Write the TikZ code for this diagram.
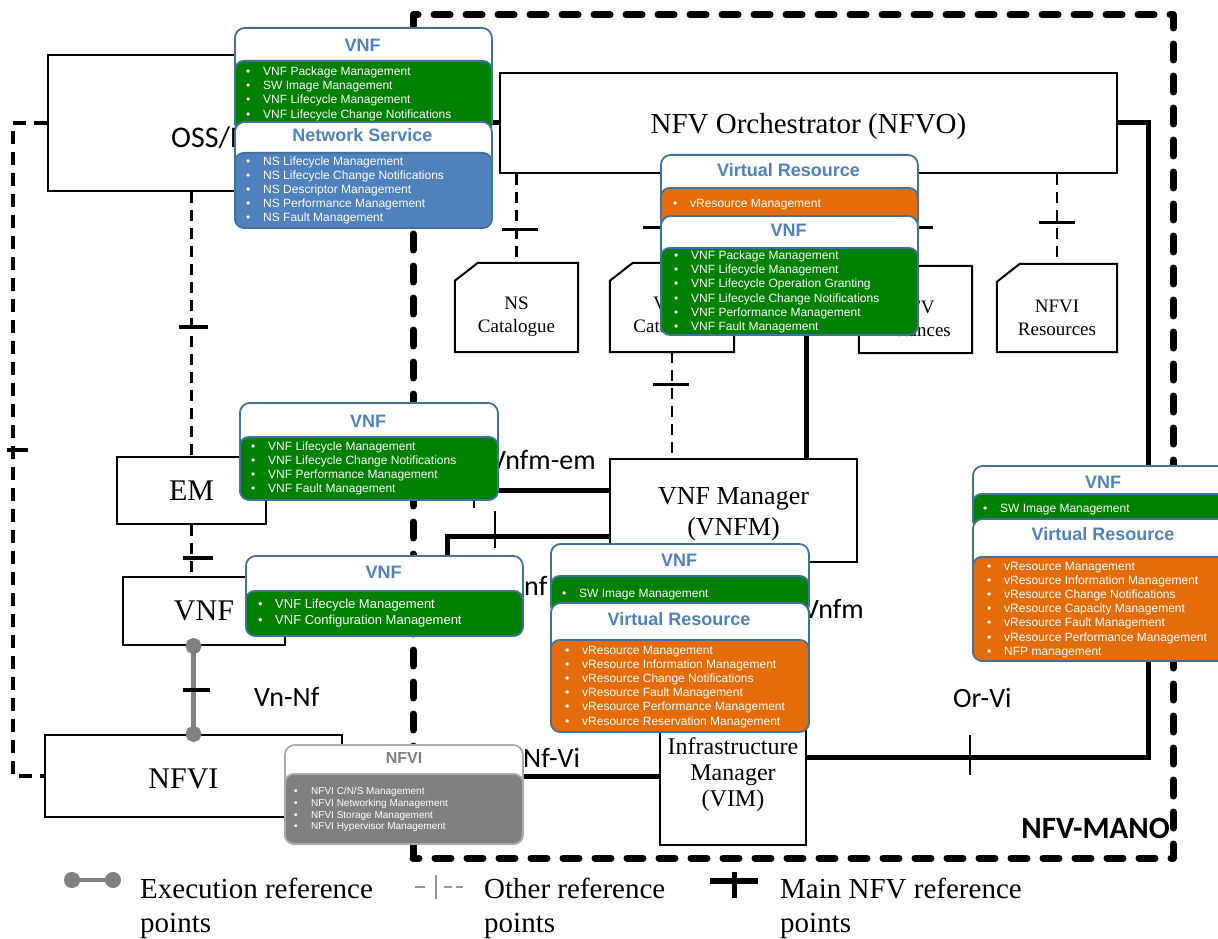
\documentclass[tikz,border=0pt]{standalone}
\usepackage{fontspec}
\setmainfont{Liberation Serif}
\setsansfont{Carlito}
\newfontfamily\arialfont{Liberation Sans}
\usetikzlibrary{arrows.meta}
\definecolor{cborder}{RGB}{65,113,156}
\definecolor{ctblue}{RGB}{79,129,189}
\definecolor{vnfgreen}{RGB}{0,128,0}
\definecolor{vrorange}{RGB}{228,108,10}
\definecolor{nsblue}{RGB}{79,129,189}
\definecolor{nfvigray}{RGB}{128,128,128}
\definecolor{nfviedge}{RGB}{170,170,170}
\definecolor{execgray}{RGB}{128,128,128}
\definecolor{lggray}{RGB}{150,150,150}
\newcommand{\itm}[1]{\makebox[17pt][l]{\textbullet}#1}
\tikzset{
	box/.style={draw, line width=2pt, fill=white, inner sep=0pt, align=center, font=\fontsize{30}{32}\selectfont},
	cat/.style={inner sep=0pt},
	catline/.style={draw, line width=2pt, fill=white},
	cattext/.style={inner sep=0pt, align=center, font=\fontsize{19}{23}\selectfont},
	other/.style={line width=2.5pt, dash pattern=on 11pt off 7pt},
	otherlong/.style={line width=3.5pt, dash pattern=on 13pt off 8pt},
	otherlg/.style={draw=lggray, line width=2pt, dash pattern=on 10pt off 19pt on 8pt off 4pt on 8pt},
	main/.style={line width=5pt},
	exec/.style={draw=execgray, line width=5pt, {Circle[length=16pt]}-{Circle[length=16pt]}, shorten <=-8pt, shorten >=-8pt},
	htick/.style={fill, inner sep=0pt, minimum width=#1, minimum height=3.5pt},
	htick/.default=30pt,
	vtick/.style={fill, inner sep=0pt, minimum height=#1, minimum width=2.5pt},
	vtick/.default=38pt,
	rp/.style={inner sep=0pt, font=\sffamily\fontsize{28}{30}\selectfont},
	mano/.style={line width=7pt, dash pattern=on 16pt off 16pt, line cap=round, line join=round},
	apibox/.style={anchor=north west, draw=cborder, line width=1.8pt, fill=white, rounded corners=10pt, inner sep=0pt},
	cbody/.style={anchor=north west, draw=cborder, line width=1.8pt, fill=#1, rounded corners=9pt, inner sep=0pt},
	ctitle/.style={inner sep=0pt, text=ctblue, font=\arialfont\bfseries\fontsize{18}{20}\selectfont},
	citems/.style={anchor=north west, inner sep=0pt, align=left, text=white, font=\arialfont\fontsize{12}{14.2}\selectfont},
	lgtext/.style={anchor=north west, inner sep=0pt, align=left, font=\fontsize{29}{34}\selectfont}
}

\begin{document}
\begin{tikzpicture}[x=1pt,y=-1pt]
	\useasboundingbox (0,0) rectangle (1218,939);
	\clip (0,0) rectangle (1218,939);

	% functional blocks
	\node[box, minimum width=438pt, minimum height=136pt] (oss) at (267,123) {};
	\node[rp, anchor=base west, font=\sffamily\fontsize{30}{32}\selectfont] (osstext) at (171,147) {OSS/BSS};
	\node[box, minimum width=617pt, minimum height=100pt, text depth=0pt, font=\fontsize{29}{31}\selectfont] (nfvo) at (808.5,123) {NFV Orchestrator (NFVO)};
	\node[box, minimum width=149pt, minimum height=67pt] (em) at (191.5,490.5) {EM};
	\node[box, minimum width=162pt, minimum height=68pt] (vnf) at (204,611) {VNF};
	\node[box, minimum width=247pt, minimum height=103pt, text height=56.5pt, font=\fontsize{26}{31}\selectfont] (vnfm) at (733.5,510.5) {VNF Manager\\(VNFM)};
	\node[box, minimum width=146pt, minimum height=146pt, text height=74.5pt, font=\fontsize{24}{26}\selectfont] (vim) at (733,772) {Infrastructure\\Manager\\(VIM)};
	\node[box, minimum width=297pt, minimum height=82pt] (nfvi) at (193.5,776) {};
	\node[inner sep=0pt, font=\fontsize{30}{32}\selectfont] (nfvitext) at (183.5,779) {NFVI};

	% repositories
	\node[cat, minimum width=123pt, minimum height=89pt] (nscat) at (516.5,307.5) {};
	\node[cat, minimum width=124pt, minimum height=89pt] (vnfcat) at (672,307.5) {};
	\node[cat, minimum width=113pt, minimum height=87pt] (nfvinst) at (915.5,309.5) {};
	\node[cat, minimum width=120pt, minimum height=88pt] (nfvires) at (1057,308) {};
	\draw[catline] (nscat.south west) -- ([yshift=-18pt]nscat.north west) -- ([xshift=23pt]nscat.north west) -- (nscat.north east) -- (nscat.south east) -- cycle;
	\draw[catline] (vnfcat.south west) -- ([yshift=-18pt]vnfcat.north west) -- ([xshift=23pt]vnfcat.north west) -- (vnfcat.north east) -- (vnfcat.south east) -- cycle;
	\draw[catline] (nfvinst.south west) -- ([yshift=-18pt]nfvinst.north west) -- ([xshift=23pt]nfvinst.north west) -- (nfvinst.north east) -- (nfvinst.south east) -- cycle;
	\draw[catline] (nfvires.south west) -- ([yshift=-18pt]nfvires.north west) -- ([xshift=23pt]nfvires.north west) -- (nfvires.north east) -- (nfvires.south east) -- cycle;
	\node[cattext] (nscattext) at (516.5,316.5) {NS\\Catalogue};
	\node[cattext] (vnfcattext) at (672,316.5) {VNF\\Catalogue};
	\node[cattext] (nfvinsttext) at (915.5,319) {NFV\\Instances};
	\node[cattext] (nfvirestext) at (1057,317.5) {NFVI\\Resources};

	\coordinate (lftbend) at (13,123);
	\coordinate (vnfbend) at (447,536);
	\coordinate (orvnfm) at (806,300);
	\coordinate (orvi) at (1148,757);

	% other reference points
	\draw[other] (nscat.north |- nfvo.south) -- (nscat.north);
	\draw[other] (vnfcat.north |- nfvo.south) -- (vnfcat.north);
	\draw[other] (nfvinst.north |- nfvo.south) -- (nfvinst.north);
	\draw[other] (nfvires.north |- nfvo.south) -- (nfvires.north);
	\draw[other] (vnfcat.south) -- (vnfcat.south |- vnfm.north);
	\draw[other] (em.north |- oss.south) -- (em.north);
	\draw[other] (em.south) -- (em.south |- vnf.north);
	\draw[otherlong] (oss.west) -- (lftbend) |- (nfvi.west);
	\node[htick=21pt] (tkleft) at (17.5,450) {};
	\node[htick=29pt] (tkossem) at (193.5,327) {};
	\node[htick=30pt] (tkemvnf) at (198,558) {};
	\node[htick=36pt, minimum height=3pt] (tkns) at (520,229) {};
	\node[htick=40pt, minimum height=3pt] (tkvnfcat) at (663,227) {};
	\node[htick=36pt, minimum height=3pt] (tkinst) at (915,227) {};
	\node[htick=36pt, minimum height=3pt] (tkres) at (1057,222) {};
	\node[htick=36pt, minimum height=3pt] (tkcatvnfm) at (671,384) {};

	% main reference points
	\draw[main] (oss.east) -- (nfvo.west);
	\draw[main] (nfvo.south -| orvnfm) -- (vnfm.north -| orvnfm);
	\draw[main] (em.east) -- (em.east -| vnfm.west);
	\draw[main] (vnf.east) -| (vnfbend) -- (vnfbend -| vnfm.west);
	\draw[main] (vnfm.south) -- (vnfm.south |- vim.north);
	\draw[main] (nfvi.east) -- (nfvi.east -| vim.west);
	\draw[main] (nfvo.east) -| (orvi) -- (orvi -| vim.east);
	\node[vtick=38pt] (tkvnfmem) at (474,489) {};
	\node[vtick=37pt] (tkvnfmvnf) at (495,529) {};
	\node[vtick=40pt] (tkorvi) at (970,755) {};

	% execution reference point
	\draw[exec] (nfvi.north |- vnf.south) -- (nfvi.north);
	\node[htick=27pt, minimum height=4.5pt] (tkvnnf) at (196.5,690) {};

	\node[rp, anchor=base west] (lbvnfmem) at (490,469) {Vnfm-em};
	\node[rp, anchor=base west] (lbvnfmvnf) at (524,595) {nf};
	\node[rp, anchor=base west] (lbvivnfm) at (803,618) {Vnfm};
	\node[rp, anchor=base west] (lbvnnf) at (254,706) {Vn-Nf};
	\node[rp, anchor=base west] (lbnfvi) at (523,767) {Nf-Vi};
	\node[rp, anchor=base west] (lborvi) at (953,707) {Or-Vi};
	\node[rp, anchor=base east, font=\sffamily\bfseries\fontsize{31}{33}\selectfont] (lbmano) at (1170,838) {NFV-MANO};

	\draw[mano] (413,858) -- (413,15) -- (1173,15) -- (1173,858) -- cycle;

	% interfaces offered at OSS/BSS
	\node[apibox, minimum width=257pt, minimum height=104pt] (ossvnf) at (234,27) {};
	\node[cbody=vnfgreen, minimum width=257pt, minimum height=71pt] (ossvnfbody) at (234,60) {};
	\node[ctitle] (ossvnftitle) at (362.5,45.5) {VNF};
	\node[citems] (ossvnfitems) at (246,66.6) {\itm{VNF Package Management}\\\itm{SW Image Management}\\\itm{VNF Lifecycle Management}\\\itm{VNF Lifecycle Change Notifications}};
	\node[apibox, minimum width=257pt, minimum height=106pt] (ossns) at (234,121) {};
	\node[cbody=nsblue, minimum width=257pt, minimum height=75pt] (ossnsbody) at (234,152) {};
	\node[ctitle] (ossnstitle) at (362.5,135.5) {Network Service};
	\node[citems, font=\arialfont\fontsize{12}{14}\selectfont] (ossnsitems) at (246,156.6) {\itm{NS Lifecycle Management}\\\itm{NS Lifecycle Change Notifications}\\\itm{NS Descriptor Management}\\\itm{NS Performance Management}\\\itm{NS Fault Management}};

	% interfaces offered at NFVO
	\node[apibox, minimum width=257pt, minimum height=75pt] (nfvovr) at (660,154) {};
	\node[cbody=vrorange, minimum width=257pt, minimum height=42pt] (nfvovrbody) at (660,187) {};
	\node[ctitle] (nfvovrtitle) at (788.5,170) {Virtual Resource};
	\node[citems] (nfvovritems) at (673,198.6) {\itm{vResource Management}};
	\node[apibox, minimum width=257pt, minimum height=119pt] (nfvovnf) at (660,215) {};
	\node[cbody=vnfgreen, minimum width=257pt, minimum height=87pt] (nfvovnfbody) at (660,247) {};
	\node[ctitle] (nfvovnftitle) at (788.5,230) {VNF};
	\node[citems] (nfvovnfitems) at (674,250.6) {\itm{VNF Package Management}\\\itm{VNF Lifecycle Management}\\\itm{VNF Lifecycle Operation Granting}\\\itm{VNF Lifecycle Change Notifications}\\\itm{VNF Performance Management}\\\itm{VNF Fault Management}};

	% interfaces offered at EM and VNF
	\node[apibox, minimum width=258pt, minimum height=97pt] (emvnf) at (239,402) {};
	\node[cbody=vnfgreen, minimum width=258pt, minimum height=63pt] (emvnfbody) at (239,436) {};
	\node[ctitle] (emvnftitle) at (368,421) {VNF};
	\node[citems, font=\arialfont\fontsize{12}{14}\selectfont] (emvnfitems) at (251,441.6) {\itm{VNF Lifecycle Management}\\\itm{VNF Lifecycle Change Notifications}\\\itm{VNF Performance Management}\\\itm{VNF Fault Management}};
	\node[apibox, minimum width=277pt, minimum height=80pt] (vnfvnf) at (245,555) {};
	\node[cbody=vnfgreen, minimum width=277pt, minimum height=45pt] (vnfvnfbody) at (245,590) {};
	\node[ctitle] (vnfvnftitle) at (383.5,572) {VNF};
	\node[citems, font=\arialfont\fontsize{13}{16}\selectfont] (vnfvnfitems) at (258,599.3) {\itm{VNF Lifecycle Management}\\\itm{VNF Configuration Management}};

	% interfaces offered at VNFM
	\node[apibox, minimum width=258pt, minimum height=70pt] (vnfmvnf) at (550,543) {};
	\node[cbody=vnfgreen, minimum width=258pt, minimum height=38pt] (vnfmvnfbody) at (550,575) {};
	\node[ctitle] (vnfmvnftitle) at (679,560) {VNF};
	\node[citems] (vnfmvnfitems) at (562,588.6) {\itm{SW Image Management}};
	\node[apibox, minimum width=258pt, minimum height=129pt] (vnfmvr) at (550,602) {};
	\node[cbody=vrorange, minimum width=258pt, minimum height=92pt] (vnfmvrbody) at (550,639) {};
	\node[ctitle] (vnfmvrtitle) at (679,619.5) {Virtual Resource};
	\node[citems] (vnfmvritems) at (565,645.6) {\itm{vResource Management}\\\itm{vResource Information Management}\\\itm{vResource Change Notifications}\\\itm{vResource Fault Management}\\\itm{vResource Performance Management}\\\itm{vResource Reservation Management}};

	% interfaces offered at VIM
	\node[apibox, minimum width=262pt, minimum height=63pt] (orvnf) at (972,465) {};
	\node[cbody=vnfgreen, minimum width=262pt, minimum height=35pt] (orvnfbody) at (972,493) {};
	\node[ctitle] (orvnftitle) at (1103,482.5) {VNF};
	\node[citems] (orvnfitems) at (983,503.6) {\itm{SW Image Management}};
	\node[apibox, minimum width=262pt, minimum height=142pt] (orvr) at (972,518) {};
	\node[cbody=vrorange, minimum width=262pt, minimum height=104pt] (orvrbody) at (972,556) {};
	\node[ctitle] (orvrtitle) at (1103,534.5) {Virtual Resource};
	\node[citems] (orvritems) at (987,561.6) {\itm{vResource Management}\\\itm{vResource Information Management}\\\itm{vResource Change Notifications}\\\itm{vResource Capacity Management}\\\itm{vResource Fault Management}\\\itm{vResource Performance Management}\\\itm{NFP management}};

	% interfaces offered at NFVI
	\node[apibox, draw=nfviedge, minimum width=238pt, minimum height=99pt] (nfvicall) at (284,744) {};
	\node[cbody=nfvigray, draw=nfviedge, minimum width=238pt, minimum height=70pt] (nfvicallbody) at (284,773) {};
	\node[ctitle, text=nfvigray, font=\arialfont\bfseries\fontsize{16}{18}\selectfont] (nfvicalltitle) at (404,758) {NFVI};
	\node[citems, font=\arialfont\fontsize{10}{11.7}\selectfont] (nfvicallitems) at (294,787.4) {\itm{NFVI C/N/S Management}\\\itm{NFVI Networking Management}\\\itm{NFVI Storage Management}\\\itm{NFVI Hypervisor Management}};

	% legend
	\coordinate (exa) at (72,880);
	\coordinate (exb) at (113,880);
	\draw[exec, line width=4pt] (exa) -- (exb);
	\node[lgtext] (lgexec) at (140,878) {Execution reference\\points};
	\coordinate (otha) at (415,887);
	\coordinate (othb) at (463,887);
	\draw[otherlg] (otha) -- (othb);
	\node[vtick=24pt, fill=lggray, minimum width=2pt] (lgothtick) at (436,887) {};
	\node[lgtext] (lgother) at (484,878) {Other reference\\points};
	\coordinate (mna) at (710,881);
	\coordinate (mnb) at (758,881);
	\draw[main, line width=6pt] (mna) -- (mnb);
	\node[vtick=26pt, minimum width=5pt] (lgmaintick) at (734,885) {};
	\node[lgtext] (lgmain) at (780,878) {Main NFV reference\\points};
\end{tikzpicture}
\end{document}
